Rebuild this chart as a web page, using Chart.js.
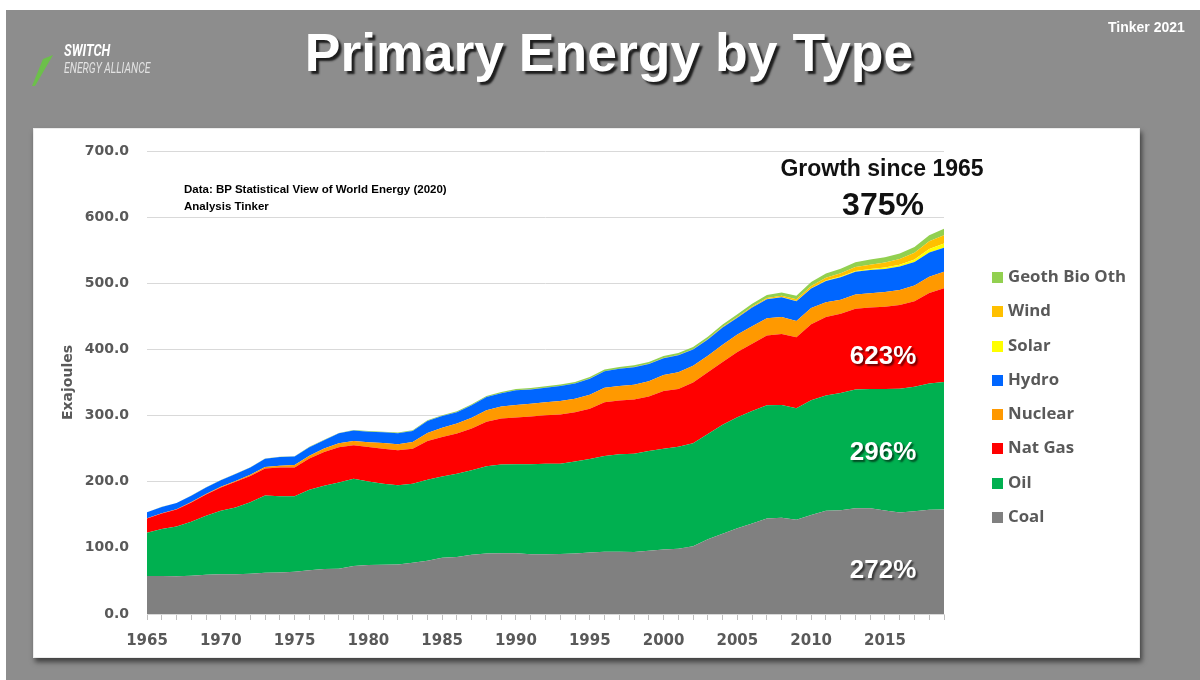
<!DOCTYPE html>
<html>
<head>
<meta charset="utf-8">
<script src="https://cdn.jsdelivr.net/npm/chart.js@4.4.1/dist/chart.umd.min.js"></script>
<style>
  html, body { margin: 0; padding: 0; background: #fff; }
  #page { position: absolute; left: 6px; top: 10px; width: 1194px; height: 670px; background: #8d8d8d; overflow: hidden; }
  #panel { position: absolute; left: 33px; top: 128px; width: 1107px; height: 530px; background: #fff;
           box-shadow: 2px 4px 5px rgba(0,0,0,0.55); border: 1px solid #ececec; box-sizing: border-box; }
  #chart { position: absolute; left: 0; top: 0; }
  .txt { position: absolute; white-space: nowrap; font-family: "Liberation Sans", Arial, sans-serif; font-weight: bold; }
  #title { left: 609px; top: 52px; transform: translate(-50%, -50%); font-size: 53.5px; color: #fff;
           text-shadow: 3px 3px 2px #1e1e1e; }
  #tinker { left: 1108px; top: 19px; font-size: 14px; color: #fff; }
  #switch { left: 64px; top: 41px; font-family: Roboto, sans-serif; font-size: 16px; font-style: italic; color: #fff;
            transform: scaleX(0.8); transform-origin: left center; }
  #alliance { left: 64px; top: 60px; font-family: Roboto, sans-serif; font-size: 14px; font-style: italic; font-weight: normal;
              color: #e2e2e2; transform: scaleX(0.74); transform-origin: left center; }
  #note { left: 184px; top: 181px; font-size: 11.5px; color: #000; line-height: 17px; }
  #growth { left: 882px; top: 168px; transform: translate(-50%, -50%); font-size: 23px; color: #111; }
  #total { left: 883px; top: 204px; transform: translate(-50%, -50%); font-size: 32px; color: #111; }
  .pct { transform: translate(-50%, -50%); font-size: 26px; color: #fff; text-shadow: 2px 2px 2px rgba(0,0,0,0.6); }
  #legend { position: absolute; left: 992px; top: 259px; font-family: "Open Sans", sans-serif; font-weight: bold;
            font-size: 16.8px; color: #595959; }
  #legend div { height: 34.3px; line-height: 34.3px; }
  #legend span { display: inline-block; width: 11px; height: 11px; margin-right: 5px; vertical-align: -1px; }
</style>
</head>
<body>
<div id="page"></div>
<div id="panel"></div>
<canvas id="chart" width="1200" height="680"></canvas>

<svg style="position:absolute;left:0;top:0" width="70" height="100">
  <polygon points="53,55 43,59 32,86 35,86" fill="#6cc04a"/>
</svg>
<div class="txt" id="switch">SWITCH</div>
<div class="txt" id="alliance">ENERGY ALLIANCE</div>
<div class="txt" id="title">Primary Energy by Type</div>
<div class="txt" id="tinker">Tinker 2021</div>
<div class="txt" id="note">Data: BP Statistical View of World Energy (2020)<br>Analysis Tinker</div>
<div class="txt" id="growth">Growth since 1965</div>
<div class="txt" id="total">375%</div>
<div class="txt pct" style="left:883px;top:355px">623%</div>
<div class="txt pct" style="left:883px;top:451px">296%</div>
<div class="txt pct" style="left:883px;top:569px">272%</div>
<div id="legend"></div>

<script>
const years = [1965, 1966, 1967, 1968, 1969, 1970, 1971, 1972, 1973, 1974,
  1975, 1976, 1977, 1978, 1979, 1980, 1981, 1982, 1983, 1984,
  1985, 1986, 1987, 1988, 1989, 1990, 1991, 1992, 1993, 1994,
  1995, 1996, 1997, 1998, 1999, 2000, 2001, 2002, 2003, 2004,
  2005, 2006, 2007, 2008, 2009, 2010, 2011, 2012, 2013, 2014,
  2015, 2016, 2017, 2018, 2019];

// Exajoules
const coal = [57.5, 57.6, 57.2, 58.0, 59.5, 60.0, 60.2, 61.0, 62.5, 62.6,
  64.0, 66.0, 68.0, 68.5, 72.5, 74.0, 74.5, 75.0, 77.5, 80.5,
  85.0, 86.0, 89.5, 91.5, 92.0, 91.8, 90.5, 90.5, 90.8, 91.5,
  92.8, 94.0, 94.2, 93.8, 95.5, 97.5, 98.8, 102.5, 113.0, 121.5,
  129.5, 137.0, 144.5, 145.5, 142.5, 149.5, 156.0, 157.0, 160.0, 159.8,
  156.5, 153.5, 155.5, 157.5, 157.9];
const oil = [65.3, 71.0, 75.0, 81.4, 89.0, 96.0, 101.0, 108.0, 116.5, 115.5,
  114.2, 122.0, 126.0, 130.5, 132.0, 126.5, 122.5, 119.5, 119.5, 122.5,
  123.0, 126.0, 128.0, 132.0, 134.0, 134.7, 136.0, 136.5, 136.5, 139.0,
  141.5, 145.0, 147.5, 148.5, 151.0, 152.5, 154.0, 155.5, 159.0, 164.5,
  168.0, 170.0, 171.0, 170.5, 168.5, 173.5, 174.5, 177.0, 179.5, 180.5,
  183.5, 187.0, 188.0, 191.0, 193.0];
const natGas = [21.7, 23.4, 25.8, 29.2, 32.2, 35.3, 38.6, 39.8, 41.0, 43.4,
  43.3, 47.0, 51.0, 53.0, 50.5, 52.0, 53.0, 53.0, 53.0, 58.5,
  59.5, 61.0, 63.0, 67.0, 69.5, 70.5, 72.0, 73.5, 74.5, 74.5,
  76.0, 81.0, 81.0, 82.0, 82.5, 87.0, 87.5, 92.0, 93.5, 95.0,
  98.5, 101.5, 105.5, 107.5, 107.5, 115.0, 118.5, 120.0, 122.0, 123.0,
  124.5, 126.5, 129.5, 137.0, 141.5];
const nuclear = [0.3, 0.4, 0.5, 0.6, 0.7, 0.9, 1.2, 1.6, 2.1, 2.7,
  3.6, 4.2, 5.3, 6.1, 6.4, 7.2, 8.4, 9.0, 10.2, 12.0,
  14.0, 15.0, 16.2, 17.5, 18.2, 18.8, 19.5, 19.6, 20.3, 20.6,
  21.3, 22.0, 22.0, 22.3, 23.0, 24.5, 25.3, 25.5, 25.0, 26.2,
  26.5, 26.5, 26.0, 25.5, 24.5, 24.8, 22.5, 21.2, 21.5, 21.6,
  22.2, 22.8, 23.5, 24.2, 24.9];
const hydro = [9.0, 9.4, 9.3, 9.5, 9.8, 10.2, 10.6, 11.0, 12.5, 13.2,
  13.0, 13.0, 12.5, 15.0, 16.0, 16.0, 16.2, 16.8, 16.6, 18.2,
  17.8, 17.2, 18.9, 20.0, 20.2, 22.4, 21.6, 22.0, 22.5, 22.9,
  24.2, 24.9, 26.0, 26.5, 26.0, 25.3, 25.5, 24.4, 24.5, 26.1,
  25.5, 28.5, 29.0, 30.0, 30.0, 29.5, 32.0, 34.0, 34.5, 35.0,
  35.0, 35.5, 35.5, 37.0, 36.5];
const solar = [0, 0, 0, 0, 0, 0, 0, 0, 0, 0,
  0, 0, 0, 0, 0, 0, 0, 0, 0, 0,
  0, 0, 0, 0, 0, 0, 0, 0, 0, 0,
  0, 0, 0, 0, 0, 0.01, 0.01, 0.02, 0.02, 0.03,
  0.04, 0.05, 0.07, 0.12, 0.19, 0.32, 0.63, 0.93, 1.23, 1.7,
  2.2, 2.9, 4.0, 5.3, 6.3];
const wind = [0, 0, 0, 0, 0, 0, 0, 0, 0, 0,
  0, 0, 0, 0, 0, 0, 0, 0, 0, 0,
  0, 0, 0, 0, 0, 0.03, 0.04, 0.05, 0.06, 0.07,
  0.08, 0.1, 0.12, 0.16, 0.2, 0.3, 0.37, 0.5, 0.6, 0.8,
  0.98, 1.24, 1.6, 2.1, 2.6, 3.3, 4.1, 4.9, 5.8, 6.5,
  7.6, 8.6, 10.2, 11.4, 12.7];
const geoBioOther = [0.2, 0.2, 0.2, 0.3, 0.3, 0.3, 0.3, 0.4, 0.4, 0.4,
  0.5, 0.5, 0.6, 0.6, 0.7, 0.8, 0.9, 1.0, 1.1, 1.2,
  1.3, 1.4, 1.5, 1.6, 1.8, 2.0, 2.1, 2.2, 2.2, 2.3,
  2.4, 2.5, 2.6, 2.7, 2.8, 2.9, 3.0, 3.2, 3.4, 3.7,
  4.0, 4.3, 4.6, 5.0, 5.5, 6.0, 6.4, 6.9, 7.3, 7.7,
  8.0, 8.3, 8.8, 9.3, 9.8];

const seriesNames = ['Coal', 'Oil', 'Nat Gas', 'Nuclear', 'Hydro', 'Solar', 'Wind', 'Geoth Bio Oth'];
const seriesData = [coal, oil, natGas, nuclear, hydro, solar, wind, geoBioOther];
const yTicks = [0, 100, 200, 300, 400, 500, 600, 700];

const colors = ['#808080', '#00b050', '#ff0000', '#ff9900', '#0066ff', '#ffff00', '#ffc000', '#92d050'];
const grey = '#595959';

// legend, top entry = top layer
const legend = document.getElementById('legend');
for (let i = seriesNames.length - 1; i >= 0; i--) {
  const row = document.createElement('div');
  row.innerHTML = '<span style="background:' + colors[i] + '"></span>' + seriesNames[i];
  legend.appendChild(row);
}

new Chart(document.getElementById('chart'), {
  type: 'line',
  data: {
    labels: years,
    datasets: seriesData.map((d, i) => ({
      label: seriesNames[i],
      data: d,
      backgroundColor: colors[i],
      borderWidth: 0,
      pointRadius: 0,
      tension: 0,
      fill: i === 0 ? 'origin' : '-1'
    }))
  },
  options: {
    responsive: false,
    animation: false,
    layout: { padding: { left: 40, top: 151, right: 256, bottom: 30 } },
    plugins: { legend: { display: false }, tooltip: { enabled: false } },
    scales: {
      x: {
        afterFit: s => { s.height = 36; },
        grid: { drawOnChartArea: false, tickLength: 6, color: '#bfbfbf' },
        border: { color: '#d9d9d9' },
        ticks: {
          autoSkip: false, maxRotation: 0, padding: 12, color: grey,
          font: { family: 'DejaVu Sans', weight: 'bold', size: 15 },
          callback: (v, i) => years[i] % 5 === 0 ? years[i] : ''
        }
      },
      y: {
        stacked: true,
        min: yTicks[0],
        max: yTicks[yTicks.length - 1],
        afterFit: s => { s.width = 107; },
        afterBuildTicks: s => { s.ticks = yTicks.map(v => ({ value: v })); },
        grid: { color: '#d9d9d9', drawTicks: false },
        border: { display: false },
        ticks: {
          padding: 18, color: grey,
          font: { family: 'DejaVu Sans', weight: 'bold', size: 14 },
          callback: v => v.toFixed(1)
        },
        title: {
          display: true, text: 'Exajoules', color: grey,
          padding: { top: 20, bottom: 0 },
          font: { family: 'DejaVu Sans', weight: 'bold', size: 14 }
        }
      }
    }
  }
});
</script>
</body>
</html>
